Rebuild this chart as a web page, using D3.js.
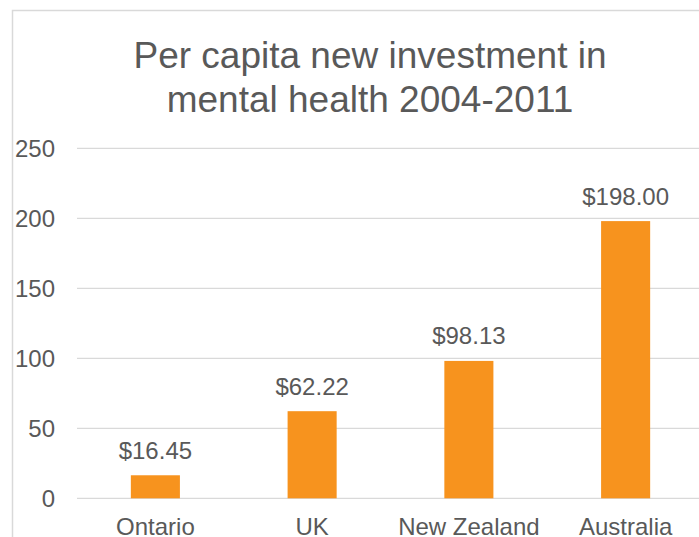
<!DOCTYPE html>
<html>
<head>
<meta charset="utf-8">
<script src="https://cdn.jsdelivr.net/npm/d3@7"></script>
<style>
  html, body { margin: 0; padding: 0; background: #fff; overflow: hidden; }
  text { font-family: "Liberation Sans", Arial, sans-serif; fill: #595959; }
</style>
</head>
<body>
<svg id="svg"></svg>
<script>
const categories = ['Ontario', 'UK', 'New Zealand', 'Australia'];
const values = [16.45, 62.22, 98.13, 198.00];
const yTicks = [0, 50, 100, 150, 200, 250];
const titleLines = ['Per capita new investment in', 'mental health 2004-2011'];

const W = 699, H = 537;
const svg = d3.select('#svg').attr('width', W).attr('height', H);

// chart border (only top and left visible, rest is cropped)
svg.append('rect')
  .attr('x', 12.5).attr('y', 10.5)
  .attr('width', 760).attr('height', 600)
  .attr('fill', 'none')
  .attr('stroke', '#d9d9d9')
  .attr('stroke-width', 1.5);

const x = d3.scaleBand()
  .domain(categories)
  .range([77, 704])
  .paddingInner(0.687)
  .paddingOuter(0.3435);

const y = d3.scaleLinear().domain([0, 250]).range([498.3, 148.3]);

// gridlines
svg.append('g')
  .selectAll('line')
  .data(yTicks)
  .enter().append('line')
  .attr('x1', 77).attr('x2', W)
  .attr('y1', d => y(d)).attr('y2', d => y(d))
  .attr('stroke', '#d9d9d9')
  .attr('stroke-width', 1.3);

// y axis labels
const yAxis = d3.axisLeft(y).tickValues(yTicks).tickSize(0).tickPadding(0);
svg.append('g')
  .attr('transform', 'translate(55,0)')
  .call(yAxis)
  .call(g => g.select('.domain').remove())
  .selectAll('text')
  .attr('font-size', 24)
  .attr('font-family', null)
  .attr('dy', '0.34em');

// bars
svg.append('g')
  .selectAll('rect')
  .data(values)
  .enter().append('rect')
  .attr('x', (_, i) => x(categories[i]))
  .attr('width', x.bandwidth())
  .attr('y', d => y(d))
  .attr('height', d => y(0) - y(d))
  .attr('fill', '#f7931e');

// value labels
svg.append('g')
  .selectAll('text')
  .data(values)
  .enter().append('text')
  .attr('x', (_, i) => x(categories[i]) + x.bandwidth() / 2)
  .attr('y', d => y(d) - 16.5)
  .attr('text-anchor', 'middle')
  .style('font-size', '24px')
  .text(d => '$' + d.toFixed(2));

// x axis labels
const xAxis = d3.axisBottom(x).tickSize(0).tickPadding(0);
svg.append('g')
  .attr('transform', `translate(0,${y(0)})`)
  .call(xAxis)
  .call(g => g.select('.domain').remove())
  .selectAll('text')
  .attr('font-size', 24)
  .attr('font-family', null)
  .attr('dy', null)
  .attr('y', 37);

// title
svg.append('text')
  .attr('x', 370)
  .attr('text-anchor', 'middle')
  .style('font-size', '37px')
  .selectAll('tspan')
  .data(titleLines)
  .enter().append('tspan')
  .attr('x', 370)
  .attr('y', (_, i) => 68 + i * 43.5)
  .text(d => d);
</script>
</body>
</html>
